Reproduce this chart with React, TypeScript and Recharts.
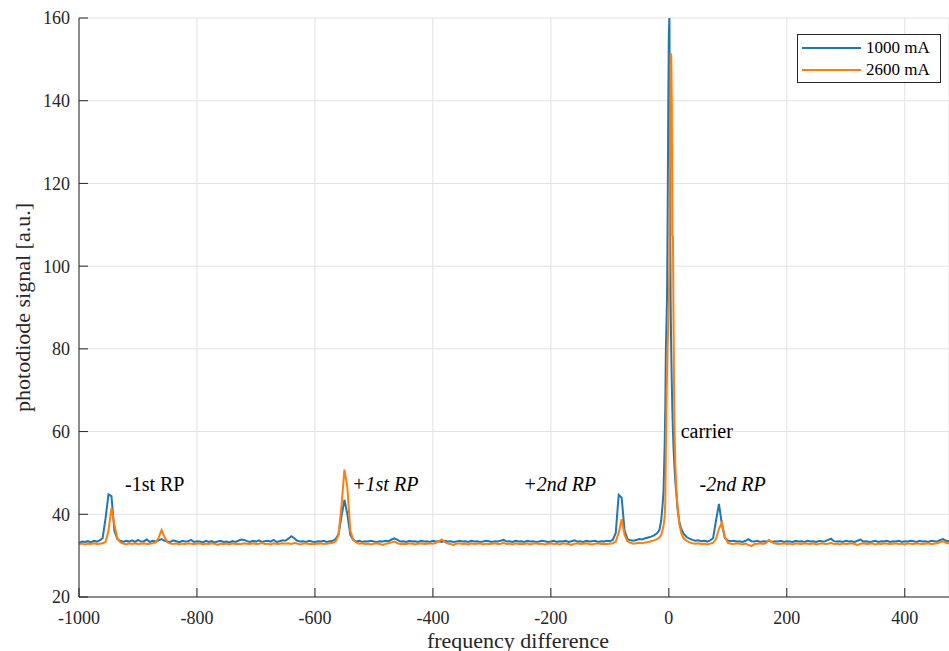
import {
  LineChart,
  Line,
  XAxis,
  YAxis,
  CartesianGrid,
  ReferenceDot,
} from 'recharts';

// sampled every 5 units from -1000 to -35
const blueA = [
  33.0, 33.4, 33.3, 33.5, 33.2, 33.6, 33.4, 33.7, 34.2, 39.0, // -1000
  44.8, 44.4, 36.0, 34.0, 33.6, 33.3, 33.6, 33.4, 33.7, 33.3, // -950
  33.8, 33.4, 33.5, 33.9, 33.3, 33.6, 33.4, 33.7, 34.0, 33.6, // -900
  33.4, 33.3, 33.7, 33.5, 33.2, 33.6, 33.4, 33.5, 33.8, 33.3, // -850
  33.5, 33.4, 33.2, 33.6, 33.3, 33.5, 33.2, 33.4, 33.6, 33.3, // -800
  33.4, 33.2, 33.5, 33.3, 33.6, 33.9, 33.8, 33.5, 33.3, 33.6, // -750
  33.4, 33.7, 33.3, 33.5, 33.6, 33.4, 33.8, 33.3, 33.5, 33.7, // -700
  33.6, 34.1, 34.7, 34.2, 33.6, 33.4, 33.5, 33.3, 33.6, 33.4, // -650
  33.3, 33.5, 33.4, 33.6, 33.3, 33.5, 33.6, 34.0, 35.2, 39.5, // -600
  43.5, 40.0, 35.0, 33.8, 33.4, 33.6, 33.3, 33.5, 33.4, 33.6, // -550
  33.4, 33.3, 33.5, 33.4, 33.6, 33.5, 33.9, 34.2, 33.8, 33.4, // -500
  33.5, 33.3, 33.6, 33.4, 33.5, 33.3, 33.6, 33.4, 33.5, 33.3, // -450
  33.6, 33.4, 33.5, 33.3, 33.6, 33.4, 33.5, 33.3, 33.4, 33.6, // -400
  33.4, 33.5, 33.3, 33.6, 33.4, 33.5, 33.3, 33.4, 33.6, 33.5, // -350
  33.3, 33.5, 33.4, 33.6, 33.8, 33.4, 33.5, 33.3, 33.6, 33.4, // -300
  33.5, 33.3, 33.6, 33.4, 33.5, 33.3, 33.4, 33.6, 33.5, 33.3, // -250
  33.4, 33.6, 33.3, 33.5, 33.4, 33.6, 33.3, 33.5, 33.7, 33.4, // -200
  33.5, 33.3, 33.6, 33.4, 33.5, 33.6, 33.3, 33.5, 33.4, 33.6, // -150
  33.5, 33.8, 35.5, 44.7, 44.0, 36.0, 34.0, 33.7, 33.6, 33.8, // -100
  34.0, 33.9, 34.2, 34.4, // -50
];

const orangeA = [
  32.8, 32.9, 32.7, 32.9, 32.8, 33.0, 32.8, 32.9, 33.0, 33.3, // -1000
  36.0, 41.5, 37.5, 34.2, 33.2, 32.9, 32.7, 33.0, 32.8, 33.0, // -950
  32.8, 32.9, 33.0, 32.8, 32.9, 33.0, 33.2, 34.3, 36.2, 34.5, // -900
  33.2, 32.9, 32.8, 33.0, 32.7, 32.9, 32.8, 33.0, 32.9, 32.8, // -850
  32.9, 33.0, 32.7, 32.9, 32.8, 33.0, 32.9, 32.6, 32.9, 32.8, // -800
  32.9, 32.7, 33.0, 32.8, 32.9, 32.8, 33.0, 32.9, 32.8, 33.0, // -750
  32.8, 32.9, 33.1, 32.8, 32.9, 32.7, 33.0, 32.8, 32.9, 33.0, // -700
  32.9, 33.0, 32.8, 33.1, 32.9, 32.7, 32.9, 33.0, 32.8, 32.9, // -650
  32.8, 32.9, 33.0, 32.8, 32.9, 33.0, 33.1, 33.4, 35.0, 42.0, // -600
  50.8, 46.5, 36.0, 33.8, 33.2, 32.9, 33.0, 32.8, 32.9, 32.7, // -550
  32.9, 33.0, 32.8, 32.6, 32.9, 33.0, 33.2, 33.4, 33.0, 32.8, // -500
  32.9, 32.8, 33.0, 32.9, 32.7, 32.9, 33.0, 32.8, 32.9, 33.0, // -450
  32.9, 33.1, 33.5, 33.9, 33.3, 32.9, 32.8, 32.6, 32.9, 33.0, // -400
  32.8, 32.9, 32.7, 33.0, 32.8, 32.9, 33.0, 32.7, 32.9, 32.8, // -350
  32.9, 33.0, 32.8, 32.9, 33.1, 32.8, 32.9, 32.7, 33.0, 32.8, // -300
  32.9, 32.8, 33.0, 32.7, 32.9, 33.0, 32.8, 32.9, 32.7, 32.9, // -250
  33.0, 32.8, 32.9, 32.7, 33.0, 32.9, 32.8, 32.6, 32.9, 33.0, // -200
  32.8, 32.9, 33.0, 32.8, 32.7, 32.9, 33.0, 32.8, 32.9, 32.8, // -150
  32.9, 33.0, 33.4, 35.5, 38.8, 35.0, 33.4, 33.1, 32.9, 33.0, // -100
  33.1, 33.0, 33.2, 33.3, // -50
];

// finer sampling around the carrier
const carrierFreq = [
  -30, -25, -20, -16, -13, -11, -9, -7, -6, -5, -4, -3, -2, -1, 0, 1,
  2, 3, 4, 5, 6, 7, 8, 9, 10, 11, 13, 15, 18, 21, 25, 30,
];
const blueB = [
  34.6, 34.9, 35.4, 36.2, 38.5, 41.5, 45.5, 57.0, 66.0, 80.0, 86.0, 93.0, 112.0, 138.0, 156.0, 160.0,
  125.0, 92.0, 80.0, 72.0, 65.0, 60.0, 56.0, 53.0, 50.5, 48.0, 44.5, 41.0, 38.0, 36.5, 35.3, 34.5,
];
const orangeB = [
  33.5, 33.7, 34.0, 34.4, 35.0, 36.0, 37.2, 39.5, 43.0, 55.0, 66.0, 74.0, 81.0, 86.0, 92.0, 100.0,
  128.0, 151.5, 151.0, 140.0, 107.5, 107.0, 86.0, 68.0, 58.0, 52.0, 45.5, 41.5, 37.5, 35.5, 34.2, 33.6,
];

// sampled every 5 units from 35 to 475
const blueC = [
  34.1, 33.8, 33.6, 33.7, 33.5, 33.6, 33.4, 33.7, 34.2, 38.5, // 35
  42.5, 37.5, 34.2, 33.7, 33.5, 33.6, 33.4, 33.5, 33.3, 33.6, // 85
  34.0, 33.5, 33.4, 33.6, 33.3, 33.5, 33.4, 33.6, 33.3, 33.5, // 135
  33.4, 33.6, 33.3, 33.5, 33.4, 33.3, 33.6, 33.4, 33.5, 33.3, // 185
  33.6, 33.4, 33.5, 33.3, 33.6, 33.4, 33.5, 33.8, 34.1, 33.5, // 235
  33.4, 33.5, 33.3, 33.6, 33.4, 33.5, 33.3, 33.6, 33.9, 33.4, // 285
  33.5, 33.3, 33.4, 33.6, 33.3, 33.5, 33.4, 33.6, 33.3, 33.5, // 335
  33.4, 33.6, 33.3, 33.5, 33.4, 33.6, 33.5, 33.3, 33.6, 33.4, // 385
  33.5, 33.3, 33.6, 33.5, 33.4, 33.8, 34.0, 33.6, 33.5, // 435
];
const orangeC = [
  33.2, 33.0, 32.9, 33.0, 32.8, 32.9, 32.7, 32.9, 33.1, 34.0, // 35
  36.5, 38.0, 34.5, 33.1, 32.9, 32.8, 33.0, 32.9, 32.7, 32.9, // 85
  32.6, 32.3, 32.8, 32.9, 33.0, 32.8, 33.1, 33.8, 33.2, 32.9, // 135
  32.8, 32.9, 33.0, 32.8, 32.9, 32.7, 33.0, 32.9, 32.8, 33.0, // 185
  32.9, 32.8, 33.0, 32.7, 32.9, 33.0, 32.8, 32.9, 33.1, 32.8, // 235
  32.9, 32.7, 33.0, 32.8, 32.9, 33.0, 32.8, 32.6, 32.9, 33.0, // 285
  32.8, 32.9, 33.0, 32.7, 32.9, 32.8, 33.0, 32.9, 32.8, 32.9, // 335
  33.0, 32.8, 32.9, 32.7, 33.0, 32.9, 32.8, 33.0, 32.9, 32.8, // 385
  32.9, 33.0, 32.8, 32.9, 33.0, 33.3, 33.5, 33.1, 32.9, // 435
];

const xTicks = [-1000, -800, -600, -400, -200, 0, 200, 400];
const yTicks = [20, 40, 60, 80, 100, 120, 140, 160];

const noteText = ['-1st RP', '+1st RP', '+2nd RP', 'carrier', '-2nd RP'];
const noteX = [-922, -537, -247, 20, 52];
const noteY = [47.3, 47.3, 47.3, 60.1, 47.3];
const noteItalic = [false, true, true, false, true];

const seriesNames = ['1000 mA', '2600 mA'];
const BLUE = '#1f77b4';
const ORANGE = '#ff7f0e';
const AXIS = '#262626';
const FONT = '"Liberation Serif", "Times New Roman", serif';

const freq = [
  ...blueA.map((_, i) => -1000 + 5 * i),
  ...carrierFreq,
  ...blueC.map((_, i) => 35 + 5 * i),
];
const blue = [...blueA, ...blueB, ...blueC];
const orange = [...orangeA, ...orangeB, ...orangeC];
const data = freq.map((f, i) => ({ f, blue: blue[i], orange: orange[i] }));

const tickStyle = { fill: AXIS, fontSize: 18, fontFamily: FONT };

export default function App() {
  return (
    <div
      style={{
        position: 'absolute',
        left: 0,
        top: 0,
        width: 949,
        height: 651,
        background: '#fff',
        overflow: 'hidden',
      }}
    >
      <LineChart
        width={949}
        height={651}
        data={data}
        margin={{ top: 18, right: 0, bottom: 0, left: 0 }}
      >
        <CartesianGrid stroke="#e2e2e2" strokeWidth={1} />
        <XAxis
          dataKey="f"
          type="number"
          domain={[-1000, 475]}
          allowDataOverflow
          ticks={xTicks}
          height={54}
          stroke={AXIS}
          tickSize={-9}
          tickMargin={23}
          tick={tickStyle}
          label={{
            content: ({ viewBox }: any) => (
              <text
                x={viewBox.x + viewBox.width / 2 + 4}
                y={viewBox.y + 43}
                textAnchor="middle"
                dominantBaseline="central"
                fill={AXIS}
                fontSize={22}
                fontFamily={FONT}
              >
                frequency difference
              </text>
            ),
          }}
        />
        <XAxis
          xAxisId="top"
          orientation="top"
          dataKey="f"
          type="number"
          domain={[-1000, 475]}
          allowDataOverflow
          ticks={xTicks}
          height={0}
          stroke={AXIS}
          tickSize={-9}
          tickFormatter={() => ''}
        />
        <YAxis
          type="number"
          domain={[20, 160]}
          ticks={yTicks}
          width={79}
          stroke={AXIS}
          tickSize={-9}
          tickMargin={18}
          tick={tickStyle}
          label={{
            content: ({ viewBox }: any) => (
              <text
                x={22}
                y={viewBox.y + viewBox.height / 2}
                transform={`rotate(-90, 22, ${viewBox.y + viewBox.height / 2})`}
                textAnchor="middle"
                dominantBaseline="central"
                fill={AXIS}
                fontSize={22}
                fontFamily={FONT}
              >
                photodiode signal [a.u.]
              </text>
            ),
          }}
        />
        <Line
          dataKey="blue"
          stroke={BLUE}
          strokeWidth={2}
          dot={false}
          isAnimationActive={false}
        />
        <Line
          dataKey="orange"
          stroke={ORANGE}
          strokeWidth={2}
          dot={false}
          isAnimationActive={false}
        />
        {noteText.map((t, i) => (
          <ReferenceDot
            key={t}
            x={noteX[i]}
            y={noteY[i]}
            r={0}
            shape={(p: any) => (
              <text
                x={p.cx}
                y={p.cy}
                dominantBaseline="central"
                fill="#000"
                fontSize={20}
                fontStyle={noteItalic[i] ? 'italic' : 'normal'}
                fontFamily={FONT}
              >
                {t}
              </text>
            )}
          />
        ))}
      </LineChart>
      <div
        style={{
          position: 'absolute',
          left: 797,
          top: 34,
          width: 142,
          height: 47,
          border: `1px solid ${AXIS}`,
          background: '#fff',
          fontFamily: FONT,
          fontSize: 17,
          color: '#000',
        }}
      >
        {seriesNames.map((n, i) => (
          <div
            key={n}
            style={{
              position: 'absolute',
              left: 4,
              top: 2 + i * 22,
              height: 22,
              display: 'flex',
              alignItems: 'center',
            }}
          >
            <span
              style={{
                display: 'inline-block',
                width: 59,
                height: 2,
                background: i === 0 ? BLUE : ORANGE,
                marginRight: 5,
              }}
            />
            <span>{n}</span>
          </div>
        ))}
      </div>
    </div>
  );
}
